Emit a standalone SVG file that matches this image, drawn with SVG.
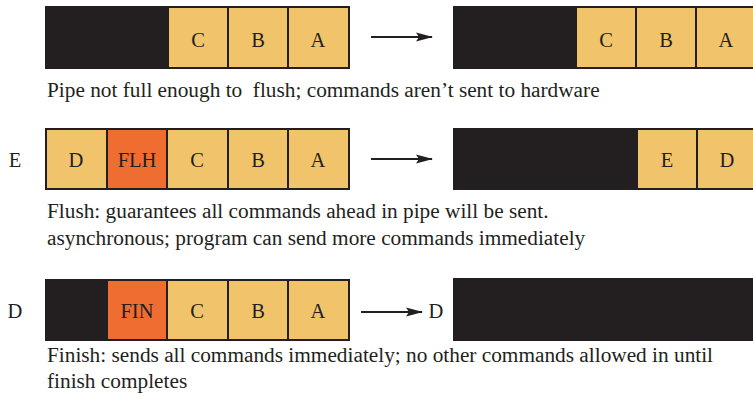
<svg xmlns="http://www.w3.org/2000/svg" width="753" height="402" viewBox="0 0 753 402">
<style>
.cap{font-size:21.3px}
.lab{font-size:20.5px;text-anchor:middle}
.blk{fill:#231f20}
.y{fill:#f1c46c;stroke:#231f20;stroke-width:2}
.o{fill:#ef6d31;stroke:#231f20;stroke-width:2}
.arr{stroke:#231f20;stroke-width:2;fill:none;marker-end:url(#ah)}
</style>
<defs>
<marker id="ah" viewBox="0 0 17 10" refX="16" refY="5" markerWidth="17" markerHeight="10" markerUnits="userSpaceOnUse" orient="auto">
<path d="M0,0.5 L17,5 L0,9.5 L3,5 Z" fill="#231f20"/>
</marker>
</defs>
<rect width="753" height="402" fill="#fff"/>
<g font-family="'Liberation Serif', 'Times New Roman', Times, serif" fill="#231f20">
<g id="pipe1-before">
<rect class="blk" x="45" y="6" width="305" height="63"/>
<rect class="y" x="168" y="7" width="60" height="61"/>
<rect class="y" x="228" y="7" width="60" height="61"/>
<rect class="y" x="288" y="7" width="61" height="61"/>
<text class="lab" x="198" y="47">C</text>
<text class="lab" x="258" y="47">B</text>
<text class="lab" x="318" y="47">A</text>
</g>
<g id="pipe1-after">
<rect class="blk" x="453" y="6" width="302" height="63"/>
<rect class="y" x="576" y="7" width="60" height="61"/>
<rect class="y" x="636" y="7" width="60" height="61"/>
<rect class="y" x="696" y="7" width="60" height="61"/>
<text class="lab" x="606" y="47">C</text>
<text class="lab" x="666" y="47">B</text>
<text class="lab" x="726" y="47">A</text>
</g>
<text id="caption1" class="cap" x="47" y="97" xml:space="preserve">Pipe not full enough to  flush; commands aren’t sent to hardware</text>

<text id="in-E" class="lab" x="15" y="167">E</text>
<g id="pipe2-before">
<rect class="y" x="46" y="129" width="61" height="60"/>
<rect class="o" x="107" y="129" width="60" height="60"/>
<rect class="y" x="167" y="129" width="61" height="60"/>
<rect class="y" x="228" y="129" width="60" height="60"/>
<rect class="y" x="288" y="129" width="61" height="60"/>
<text class="lab" x="76" y="167">D</text>
<text class="lab" x="137" y="167">FLH</text>
<text class="lab" x="197" y="167">C</text>
<text class="lab" x="258" y="167">B</text>
<text class="lab" x="318" y="167">A</text>
</g>
<g id="pipe2-after">
<rect class="blk" x="453" y="128" width="302" height="62"/>
<rect class="y" x="637" y="129" width="60" height="60"/>
<rect class="y" x="697" y="129" width="60" height="60"/>
<text class="lab" x="667" y="167">E</text>
<text class="lab" x="727" y="167">D</text>
</g>
<text id="caption2" class="cap"><tspan x="47" y="218">Flush: guarantees all commands ahead in pipe will be sent.</tspan><tspan x="47" y="245">asynchronous; program can send more commands immediately</tspan></text>

<text id="in-D" class="lab" x="15" y="318">D</text>
<g id="pipe3-before">
<rect class="blk" x="45" y="279" width="305" height="62"/>
<rect class="o" x="107" y="280" width="60" height="60"/>
<rect class="y" x="167" y="280" width="61" height="60"/>
<rect class="y" x="228" y="280" width="60" height="60"/>
<rect class="y" x="288" y="280" width="61" height="60"/>
<text class="lab" x="137" y="318">FIN</text>
<text class="lab" x="197" y="318">C</text>
<text class="lab" x="258" y="318">B</text>
<text class="lab" x="318" y="318">A</text>
</g>
<text id="out-D" class="lab" x="436" y="318">D</text>
<g id="pipe3-after">
<rect class="blk" x="453" y="278" width="302" height="63"/>
</g>
<text id="caption3" class="cap"><tspan x="47" y="362">Finish: sends all commands immediately; no other commands allowed in until</tspan><tspan x="47" y="388">finish completes</tspan></text>
</g>
<g id="connectors">
<line class="arr" x1="371" y1="37" x2="432" y2="37"/>
<line class="arr" x1="371" y1="159" x2="432" y2="159"/>
<line class="arr" x1="361" y1="312" x2="422" y2="312"/>
</g>
</svg>
